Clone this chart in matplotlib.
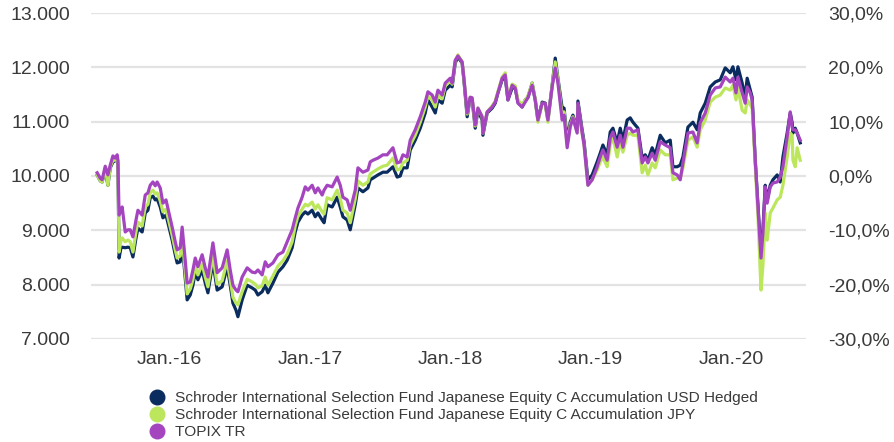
import pandas as pd
import matplotlib
matplotlib.use('Agg')
import matplotlib.pyplot as plt
from matplotlib.lines import Line2D
from matplotlib.ticker import FuncFormatter

# (growth of 10.000, weekly-ish samples)
dates = [
    '2015-06-28', '2015-07-06', '2015-07-11', '2015-07-19', '2015-07-26', '2015-08-01', '2015-08-08', '2015-08-14', '2015-08-19', '2015-08-21',
    '2015-08-24', '2015-08-29', '2015-09-01', '2015-09-09', '2015-09-16', '2015-09-22', '2015-09-29', '2015-10-07', '2015-10-12', '2015-10-23',
    '2015-10-31', '2015-11-07', '2015-11-13', '2015-11-20', '2015-11-26', '2015-12-01', '2015-12-09', '2015-12-16', '2015-12-24',
    '2016-01-09', '2016-01-17', '2016-01-22', '2016-01-30', '2016-02-04', '2016-02-12', '2016-02-17', '2016-02-25', '2016-03-03', '2016-03-09',
    '2016-03-16', '2016-03-27', '2016-04-04', '2016-04-11', '2016-04-24', '2016-05-05', '2016-05-18', '2016-05-31', '2016-06-08', '2016-06-15',
    '2016-06-23', '2016-06-28', '2016-07-09', '2016-07-22', '2016-08-04', '2016-08-12', '2016-08-19', '2016-08-30', '2016-09-07', '2016-09-14',
    '2016-09-27', '2016-10-10', '2016-10-23', '2016-11-03', '2016-11-16', '2016-11-24', '2016-12-01', '2016-12-12', '2016-12-20',
    '2016-12-27', '2017-01-07', '2017-01-15', '2017-01-22', '2017-02-02', '2017-02-07', '2017-02-15', '2017-02-28', '2017-03-13', '2017-03-21',
    '2017-03-28', '2017-04-08', '2017-04-16', '2017-04-29', '2017-05-06', '2017-05-19', '2017-06-01', '2017-06-07', '2017-06-14', '2017-06-27',
    '2017-07-10', '2017-07-21', '2017-08-05', '2017-08-16', '2017-08-24', '2017-08-31', '2017-09-11', '2017-09-19', '2017-10-02', '2017-10-15',
    '2017-10-28', '2017-11-04', '2017-11-15', '2017-11-23', '2017-11-30', '2017-12-11', '2017-12-19', '2018-01-01', '2018-01-06', '2018-01-14',
    '2018-01-21', '2018-02-01', '2018-02-06', '2018-02-14', '2018-02-22', '2018-02-27', '2018-03-07', '2018-03-14', '2018-03-25', '2018-03-27',
    '2018-04-07', '2018-04-20', '2018-04-28', '2018-05-05', '2018-05-16', '2018-05-24', '2018-05-31', '2018-06-11', '2018-06-19', '2018-06-26',
    '2018-07-07', '2018-07-15', '2018-07-22', '2018-08-02', '2018-08-10', '2018-08-17', '2018-08-28', '2018-09-05', '2018-09-12', '2018-09-23',
    '2018-10-01', '2018-10-08', '2018-10-19', '2018-10-24', '2018-11-01', '2018-11-09', '2018-11-16', '2018-11-27', '2018-11-29', '2018-12-10',
    '2018-12-15', '2018-12-25', '2019-01-05', '2019-01-18', '2019-01-26', '2019-02-02', '2019-02-13', '2019-02-21', '2019-02-28', '2019-03-11',
    '2019-03-19', '2019-03-26', '2019-04-06', '2019-04-14', '2019-04-21', '2019-05-04', '2019-05-15', '2019-05-23', '2019-05-30', '2019-06-10',
    '2019-06-18', '2019-07-01', '2019-07-14', '2019-07-27', '2019-08-03', '2019-08-14', '2019-08-22', '2019-08-29', '2019-09-11', '2019-09-24',
    '2019-10-05', '2019-10-13', '2019-10-26', '2019-11-08', '2019-11-21', '2019-12-04', '2019-12-17', '2019-12-30', '2020-01-06', '2020-01-14',
    '2020-01-19', '2020-01-30', '2020-02-07', '2020-02-12', '2020-02-20', '2020-02-25', '2020-03-04', '2020-03-11', '2020-03-19', '2020-03-24',
    '2020-03-30', '2020-04-04', '2020-04-12', '2020-04-19', '2020-04-30', '2020-05-08', '2020-05-15', '2020-05-26', '2020-06-03', '2020-06-08',
    '2020-06-10', '2020-06-16', '2020-06-21', '2020-06-29',
]

usd_hedged = [
    10020, 9910, 9890, 10110, 9830, 10150, 10260, 10280, 10350, 10200,
    8490, 8680, 8690, 8680, 8690, 8680, 8510, 8860, 9040, 8970,
    9320, 9370, 9600, 9630, 9560, 9580, 9430, 9230, 9280,
    8820, 8550, 8400, 8420, 8770, 8120, 7720, 7810, 7990, 8230,
    8090, 8270, 8030, 7850, 8420, 7900, 7960, 8330, 7990, 7660,
    7530, 7410, 7720, 7990, 7940, 7900, 7810, 7870, 7990, 7850,
    8030, 8230, 8330, 8450, 8680, 8970, 9150, 9280, 9340,
    9300, 9370, 9250, 9320, 9190, 9140, 9470, 9430, 9610, 9430,
    9250, 9190, 9010, 9470, 9780, 9710, 9780, 9930, 9960, 10020,
    10070, 10070, 10170, 9980, 10000, 10150, 10150, 10480, 10660, 10880,
    11160, 11400, 11270, 11160, 11400, 11340, 11580, 11670, 11640, 12080,
    12190, 12080, 11730, 11090, 11440, 11400, 10880, 11210, 11030, 10750,
    11160, 11250, 11340, 11530, 11770, 11820, 11400, 11620, 11620, 11360,
    11270, 11400, 11450, 11710, 11400, 11030, 11360, 11340, 11030, 11670,
    12170, 11800, 11250, 11250, 10660, 10990, 11120, 10850, 11380, 10850,
    10630, 9930, 10020, 10260, 10420, 10570, 10390, 10810, 10880, 10610,
    10880, 10660, 11030, 11070, 10990, 10880, 10330, 10390, 10290, 10520,
    10390, 10750, 10610, 10660, 10170, 10170, 10200, 10350, 10900, 10990,
    10850, 11160, 11340, 11640, 11730, 11770, 11990, 11900, 12010, 11770,
    12010, 11710, 11450, 11800, 11580, 11450, 10290, 9470, 8550, 9010,
    9830, 9560, 9830, 9930, 10020, 9890, 10350, 10790, 11160, 10980,
    10790, 10880, 10790, 10610,
]

jpy = [
    10020, 9910, 9890, 10150, 9830, 10170, 10290, 10290, 10350, 10240,
    8600, 8820, 8860, 8790, 8820, 8790, 8600, 8970, 9150, 9080,
    9430, 9480, 9690, 9740, 9670, 9690, 9540, 9340, 9390,
    8910, 8640, 8490, 8530, 8880, 8230, 7830, 7920, 8090, 8340,
    8180, 8380, 8140, 7960, 8530, 8010, 8070, 8440, 8090, 7770,
    7660, 7630, 7870, 8100, 8050, 8010, 7940, 7980, 8140, 7990,
    8160, 8340, 8440, 8560, 8790, 9080, 9260, 9390, 9480,
    9450, 9520, 9390, 9470, 9340, 9300, 9600, 9560, 9740, 9580,
    9370, 9320, 9140, 9580, 9910, 9830, 9890, 10040, 10070, 10130,
    10180, 10200, 10330, 10110, 10130, 10240, 10290, 10570, 10750, 10990,
    11270, 11470, 11400, 11270, 11490, 11420, 11660, 11750, 11690, 12120,
    12230, 12100, 11770, 11140, 11450, 11420, 10920, 11250, 11090, 10790,
    11180, 11290, 11380, 11550, 11820, 11900, 11440, 11690, 11660, 11400,
    11310, 11400, 11470, 11710, 11420, 10990, 11340, 11320, 10990, 11670,
    12100, 11770, 11120, 11180, 10570, 10940, 11090, 10810, 11310, 10790,
    10570, 9830, 9930, 10110, 10260, 10350, 10170, 10570, 10720, 10350,
    10630, 10440, 10750, 10790, 10750, 10750, 10060, 10200, 10020, 10240,
    10150, 10480, 10390, 10390, 9930, 9960, 9960, 10150, 10660, 10720,
    10530, 10850, 11030, 11360, 11450, 11490, 11620, 11580, 11670, 11400,
    11620, 11210, 11160, 11400, 11310, 11250, 10200, 9280, 7900, 8360,
    9320, 8820, 9320, 9410, 9560, 9610, 9830, 10350, 10790, 10750,
    10290, 10170, 10520, 10290,
]

topix = [
    10060, 9960, 9930, 10180, 10020, 10200, 10370, 10330, 10390, 10290,
    9280, 9370, 9430, 8970, 9010, 9010, 8880, 9190, 9370, 9280,
    9650, 9690, 9830, 9890, 9820, 9890, 9780, 9500, 9560,
    9060, 8790, 8640, 8680, 9060, 8450, 8030, 8050, 8270, 8490,
    8330, 8550, 8310, 8140, 8770, 8220, 8310, 8640, 8270, 7990,
    7900, 7870, 8140, 8310, 8230, 8220, 8270, 8180, 8420, 8330,
    8400, 8550, 8600, 8790, 9010, 9230, 9410, 9610, 9800,
    9740, 9830, 9690, 9780, 9650, 9740, 9830, 9800, 9980, 9830,
    9610, 9560, 9370, 9740, 10150, 10070, 10110, 10260, 10290, 10330,
    10390, 10390, 10520, 10240, 10260, 10390, 10350, 10660, 10850, 11090,
    11360, 11550, 11490, 11360, 11580, 11490, 11710, 11800, 11710, 12130,
    12210, 12100, 11770, 11160, 11450, 11440, 10940, 11250, 11090, 10790,
    11180, 11270, 11360, 11530, 11800, 11860, 11400, 11670, 11620, 11340,
    11270, 11360, 11440, 11670, 11400, 11030, 11340, 11340, 11030, 11640,
    11990, 11710, 11030, 11120, 10520, 10900, 11070, 10790, 11340, 10790,
    10570, 9830, 9930, 10170, 10350, 10480, 10290, 10700, 10810, 10530,
    10750, 10530, 10880, 10880, 10810, 10850, 10240, 10350, 10240, 10420,
    10290, 10630, 10570, 10520, 10060, 10020, 9930, 10240, 10790, 10810,
    10610, 10980, 11160, 11490, 11620, 11640, 11820, 11730, 11800, 11530,
    11820, 11530, 11340, 11640, 11530, 11400, 10290, 9430, 8490, 8950,
    9800, 9500, 9800, 9870, 9890, 9980, 10170, 10720, 11180, 10900,
    10850, 10850, 10790, 10660,
]

series_names = [
    'Schroder International Selection Fund Japanese Equity C Accumulation USD Hedged',
    'Schroder International Selection Fund Japanese Equity C Accumulation JPY',
    'TOPIX TR',
]
colors = ['#0b2c5f', '#bce65c', '#a445bf']

tick_years = ['2016', '2017', '2018', '2019', '2020']
tick_labels = ['Jan.-16', 'Jan.-17', 'Jan.-18', 'Jan.-19', 'Jan.-20']

plt.rcParams['font.family'] = ['Liberation Sans', 'DejaVu Sans']
text_color = '#3a3a3a'

x = pd.to_datetime(dates)

fig = plt.figure(figsize=(8.95, 4.42), dpi=100)
ax = fig.add_axes([91 / 895, 1 - 339 / 442, 715 / 895, 326 / 442])

for vals, c in zip([usd_hedged, jpy, topix], colors):
    ax.plot(x, vals, color=c, lw=2.3, solid_joinstyle='round', zorder=3)

ax.set_ylim(7000, 13000)
ax.set_yticks(range(7000, 13001, 1000))
ax.yaxis.set_major_formatter(FuncFormatter(lambda v, p: f'{int(v):,}'.replace(',', '.')))
ax.set_xlim(pd.Timestamp('2015-06-12'), pd.Timestamp('2020-07-14'))
ax.set_xticks(pd.to_datetime([y + '-01-01' for y in tick_years]))
ax.set_xticklabels(tick_labels)

ax.grid(axis='y', color='#e3e3e3', lw=1.6, zorder=0)
for s in ax.spines.values():
    s.set_visible(False)
ax.tick_params(length=0, labelsize=14, colors=text_color)
ax.tick_params(axis='y', pad=15)
ax.tick_params(axis='x', pad=9)

ax2 = ax.twinx()
ax2.set_ylim(-30, 30)
ax2.set_yticks(range(-30, 31, 10))
ax2.yaxis.set_major_formatter(FuncFormatter(lambda v, p: f'{v:.1f}%'.replace('.', ',')))
for s in ax2.spines.values():
    s.set_visible(False)
ax2.tick_params(length=0, labelsize=14, colors=text_color, pad=16)

handles = [Line2D([], [], ls='none', marker='o', ms=10.5, color=c) for c in colors]
fig.legend(handles, series_names, loc='upper left', bbox_to_anchor=(151 / 895, 1 - 391 / 442),
           frameon=False, fontsize=11.1, handlelength=0.8, handletextpad=0.75,
           labelspacing=0.2, borderaxespad=0, borderpad=0, labelcolor=text_color)

fig.savefig('out.png', dpi=100)
